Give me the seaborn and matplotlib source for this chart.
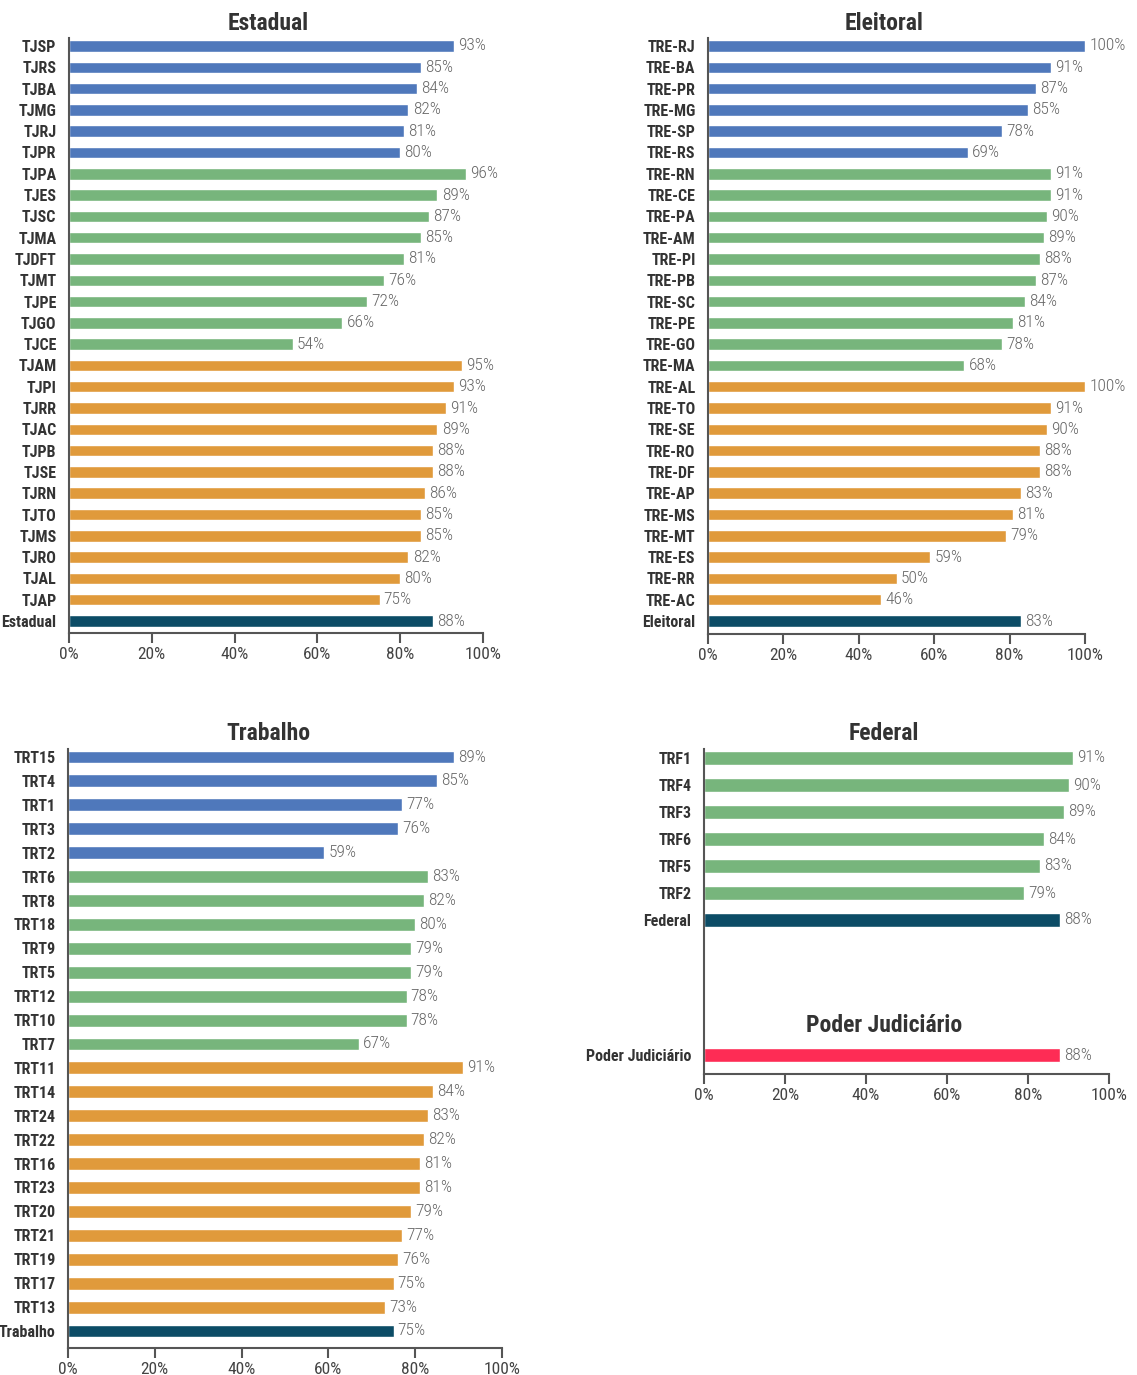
import matplotlib
matplotlib.use("Agg")
import matplotlib.pyplot as plt
from matplotlib import font_manager
import seaborn as sns
import pandas as pd

# ---------------- data ----------------
est_cats = ["TJSP", "TJRS", "TJBA", "TJMG", "TJRJ", "TJPR",
            "TJPA", "TJES", "TJSC", "TJMA", "TJDFT", "TJMT", "TJPE", "TJGO", "TJCE",
            "TJAM", "TJPI", "TJRR", "TJAC", "TJPB", "TJSE", "TJRN", "TJTO", "TJMS", "TJRO", "TJAL", "TJAP",
            "Estadual"]
est_vals = [93, 85, 84, 82, 81, 80,
            96, 89, 87, 85, 81, 76, 72, 66, 54,
            95, 93, 91, 89, 88, 88, 86, 85, 85, 82, 80, 75,
            88]
est_grp = ["Grande"] * 6 + ["Médio"] * 9 + ["Pequeno"] * 12 + ["Total"]

ele_cats = ["TRE-RJ", "TRE-BA", "TRE-PR", "TRE-MG", "TRE-SP", "TRE-RS",
            "TRE-RN", "TRE-CE", "TRE-PA", "TRE-AM", "TRE-PI", "TRE-PB", "TRE-SC", "TRE-PE", "TRE-GO", "TRE-MA",
            "TRE-AL", "TRE-TO", "TRE-SE", "TRE-RO", "TRE-DF", "TRE-AP", "TRE-MS", "TRE-MT", "TRE-ES", "TRE-RR", "TRE-AC",
            "Eleitoral"]
ele_vals = [100, 91, 87, 85, 78, 69,
            91, 91, 90, 89, 88, 87, 84, 81, 78, 68,
            100, 91, 90, 88, 88, 83, 81, 79, 59, 50, 46,
            83]
ele_grp = ["Grande"] * 6 + ["Médio"] * 10 + ["Pequeno"] * 11 + ["Total"]

trab_cats = ["TRT15", "TRT4", "TRT1", "TRT3", "TRT2",
             "TRT6", "TRT8", "TRT18", "TRT9", "TRT5", "TRT12", "TRT10", "TRT7",
             "TRT11", "TRT14", "TRT24", "TRT22", "TRT16", "TRT23", "TRT20", "TRT21", "TRT19", "TRT17", "TRT13",
             "Trabalho"]
trab_vals = [89, 85, 77, 76, 59,
             83, 82, 80, 79, 79, 78, 78, 67,
             91, 84, 83, 82, 81, 81, 79, 77, 76, 75, 73,
             75]
trab_grp = ["Grande"] * 5 + ["Médio"] * 8 + ["Pequeno"] * 11 + ["Total"]

fed_cats = ["TRF1", "TRF4", "TRF3", "TRF6", "TRF5", "TRF2", "Federal", "Poder Judiciário"]
fed_vals = [91, 90, 89, 84, 83, 79, 88, 88]
fed_grp = ["Médio"] * 6 + ["Total", "Geral"]

palette = {"Grande": "#4f78bb", "Médio": "#77b57c", "Pequeno": "#e09a3b",
           "Total": "#0c4c66", "Geral": "#fe2c55"}
xticks = [0, 20, 40, 60, 80, 100]
xtick_labels = ["0%", "20%", "40%", "60%", "80%", "100%"]

# ---------------- style ----------------
sns.set_theme(style="white")
names = {f.name for f in font_manager.fontManager.ttflist}
fam = "Roboto"
for cand in ["Roboto Condensed", "Archivo Narrow", "Barlow Semi Condensed",
             "Barlow Condensed", "Liberation Sans Narrow"]:
    if cand in names:
        fam = cand
        break
plt.rcParams["font.family"] = [fam, "DejaVu Sans"]

W, H = 1137, 1375
fig = plt.figure(figsize=(W / 100, H / 100), dpi=100)


def make_ax(l, t, r, b):
    return fig.add_axes([l / W, 1 - b / H, (r - l) / W, (b - t) / H])


def draw(ax, cats, vals, grps, order, ylim):
    df = pd.DataFrame({"cat": cats, "val": vals, "grp": grps})
    sns.barplot(data=df, x="val", y="cat", hue="grp", palette=palette, order=order,
                dodge=False, legend=False, width=0.54, ax=ax, saturation=1)
    for cont in ax.containers:
        labs = []
        for rect in cont:
            w = rect.get_width()
            labs.append("" if pd.isna(w) or w == 0 else f"{int(round(w))}%")
        ax.bar_label(cont, labels=labs, padding=3, fontsize=12.5, color="#666666",
                     fontweight="light")
    ax.set_xlim(0, 100)
    ax.set_ylim(*ylim)
    ax.set_xticks(xticks)
    ax.set_xticklabels(xtick_labels)
    ax.set_xlabel("")
    ax.set_ylabel("")
    for s in ["top", "right"]:
        ax.spines[s].set_visible(False)
    for s in ["left", "bottom"]:
        ax.spines[s].set_color("#555555")
        ax.spines[s].set_linewidth(1.5)
    ax.tick_params(axis="x", bottom=True, length=7, width=1.5, color="#555555",
                   labelsize=12.5, labelcolor="#444444", pad=3)
    ax.tick_params(axis="y", left=False, pad=3)
    for lab in ax.get_yticklabels():
        lab.set_fontweight("bold")
        lab.set_fontsize(11.5)
        lab.set_color("#333333")


ax1 = make_ax(69, 38, 483, 633)
draw(ax1, est_cats, est_vals, est_grp, est_cats, (27 + 12 / 21.3, -8 / 21.3))

ax2 = make_ax(708, 38, 1085, 634)
draw(ax2, ele_cats, ele_vals, ele_grp, ele_cats, (27 + 13 / 21.3, -8 / 21.3))

ax3 = make_ax(68, 749, 502, 1348)
draw(ax3, trab_cats, trab_vals, trab_grp, trab_cats, (24 + 17 / 23.875, -8 / 23.875))

fed_order = fed_cats[:7] + [" ", "  ", "   ", "    "] + fed_cats[7:]
ax4 = make_ax(704, 749, 1109, 1074)
draw(ax4, fed_cats, fed_vals, fed_grp, fed_order, (11 + 19 / 27, -9 / 27))

title_kw = dict(ha="center", va="center", fontsize=17, fontweight="bold", color="#333333")
fig.text(268 / W, 1 - 24 / H, "Estadual", **title_kw)
fig.text(884 / W, 1 - 24 / H, "Eleitoral", **title_kw)
fig.text(268 / W, 1 - 734 / H, "Trabalho", **title_kw)
fig.text(884 / W, 1 - 734 / H, "Federal", **title_kw)
fig.text(884 / W, 1 - 1026 / H, "Poder Judiciário", **title_kw)

fig.savefig("out.png", dpi=100, facecolor="white")
